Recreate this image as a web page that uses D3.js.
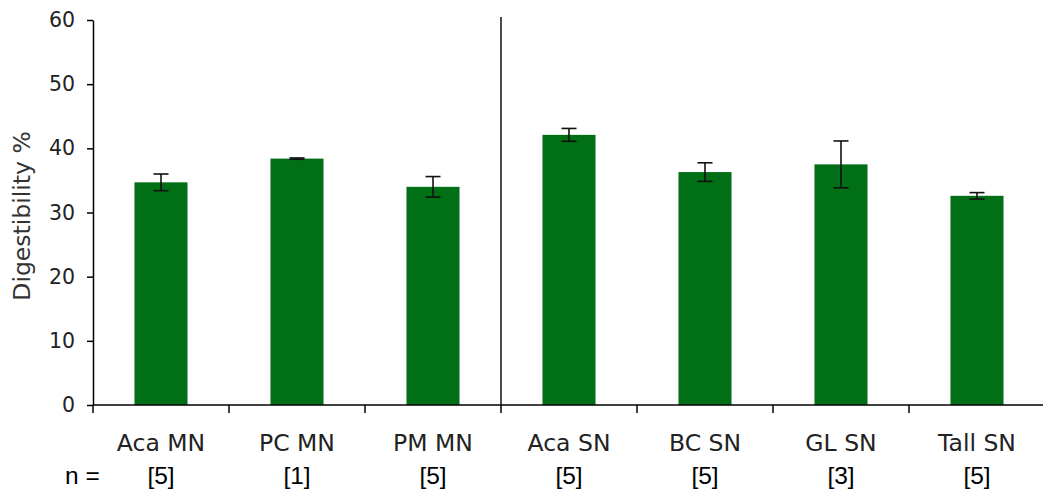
<!DOCTYPE html>
<html>
<head>
<meta charset="utf-8">
<script src="https://cdn.jsdelivr.net/npm/d3@7"></script>
<style>
  html, body { margin: 0; padding: 0; background: #fff; }
  svg { display: block; }
</style>
</head>
<body>
<svg id="chart" width="1043" height="495"></svg>
<script>
// Digestibility by sample, with standard-error bars and sample counts
const categories = ["Aca MN", "PC MN", "PM MN", "Aca SN", "BC SN", "GL SN", "Tall SN"];
const digestibility = [34.7, 38.4, 34.0, 42.1, 36.3, 37.5, 32.6];
const errors = [1.3, 0.1, 1.6, 1.0, 1.45, 3.65, 0.5];
const sampleCounts = ["[5]", "[1]", "[5]", "[5]", "[5]", "[3]", "[5]"];
const yTicks = [0, 10, 20, 30, 40, 50, 60];
const groupSplitIndex = 3; // first SN category

const svg = d3.select("#chart");
const plotLeft = 93, plotRight = 1045, plotTop = 20, plotBottom = 405;

const x = d3.scaleBand()
  .domain(categories)
  .range([plotLeft, plotRight])
  .paddingInner(0.61)
  .paddingOuter(0.305);

const y = d3.scaleLinear().domain([0, 60]).range([plotBottom, plotTop]);

const step = x.step();
const bandStart = c => x(c) - x.paddingInner() * step / 2;

// bars
svg.append("g").selectAll("rect")
  .data(categories)
  .join("rect")
  .attr("x", c => x(c))
  .attr("width", x.bandwidth())
  .attr("y", (c, i) => y(digestibility[i]))
  .attr("height", (c, i) => y(0) - y(digestibility[i]))
  .attr("fill", "#006f15");

// error bars
const eg = svg.append("g").attr("stroke", "#111").attr("stroke-width", 1.6);
categories.forEach((c, i) => {
  const cx = x(c) + x.bandwidth() / 2;
  const hi = y(digestibility[i] + errors[i]);
  const lo = y(digestibility[i] - errors[i]);
  eg.append("line").attr("x1", cx).attr("x2", cx).attr("y1", hi).attr("y2", lo);
  eg.append("line").attr("x1", cx - 7.5).attr("x2", cx + 7.5).attr("y1", hi).attr("y2", hi);
  eg.append("line").attr("x1", cx - 7.5).attr("x2", cx + 7.5).attr("y1", lo).attr("y2", lo);
});

// y axis
const yAxis = svg.append("g")
  .attr("transform", `translate(${plotLeft},0)`)
  .call(d3.axisLeft(y).tickValues(yTicks).tickSize(6).tickSizeOuter(0).tickPadding(12));
yAxis.select(".domain").attr("stroke", "#000").attr("stroke-width", 1.5);
yAxis.selectAll(".tick line").attr("stroke", "#000").attr("stroke-width", 1.5);
yAxis.selectAll(".tick text")
  .attr("font-family", "DejaVu Sans, Verdana, sans-serif")
  .attr("font-size", 20.5)
  .attr("fill", "#222");

// x axis baseline and ticks at band boundaries
const xg = svg.append("g").attr("stroke", "#000").attr("stroke-width", 1.5);
xg.append("line").attr("x1", plotLeft).attr("x2", plotRight).attr("y1", y(0)).attr("y2", y(0));
d3.range(categories.length + 1).forEach(k => {
  const tx = plotLeft + k * step;
  xg.append("line").attr("x1", tx).attr("x2", tx).attr("y1", y(0)).attr("y2", y(0) + 8);
});

// divider between MN and SN groups
const divX = bandStart(categories[groupSplitIndex]);
svg.append("line")
  .attr("x1", divX).attr("x2", divX)
  .attr("y1", y(60) - 3).attr("y2", y(0))
  .attr("stroke", "#111").attr("stroke-width", 1.5);

// category labels
svg.append("g").selectAll("text")
  .data(categories)
  .join("text")
  .attr("x", c => x(c) + x.bandwidth() / 2)
  .attr("y", 451)
  .attr("text-anchor", "middle")
  .attr("font-family", "DejaVu Sans, Verdana, sans-serif")
  .attr("font-size", 23.5)
  .attr("fill", "#222")
  .text(c => c);

// sample counts
svg.append("text")
  .attr("x", 65).attr("y", 484)
  .attr("font-family", "Liberation Sans, Arial, sans-serif")
  .attr("font-size", 24.5)
  .attr("fill", "#000")
  .text("n =");
svg.append("g").selectAll("text")
  .data(categories)
  .join("text")
  .attr("x", c => x(c) + x.bandwidth() / 2)
  .attr("y", 484)
  .attr("text-anchor", "middle")
  .attr("font-family", "Liberation Sans, Arial, sans-serif")
  .attr("font-size", 24.5)
  .attr("fill", "#000")
  .text((c, i) => sampleCounts[i]);

// y axis title
svg.append("text")
  .attr("transform", "translate(30,216) rotate(-90)")
  .attr("text-anchor", "middle")
  .attr("font-family", "DejaVu Sans, Verdana, sans-serif")
  .attr("font-size", 23.5)
  .attr("fill", "#333")
  .text("Digestibility %");
</script>
</body>
</html>
